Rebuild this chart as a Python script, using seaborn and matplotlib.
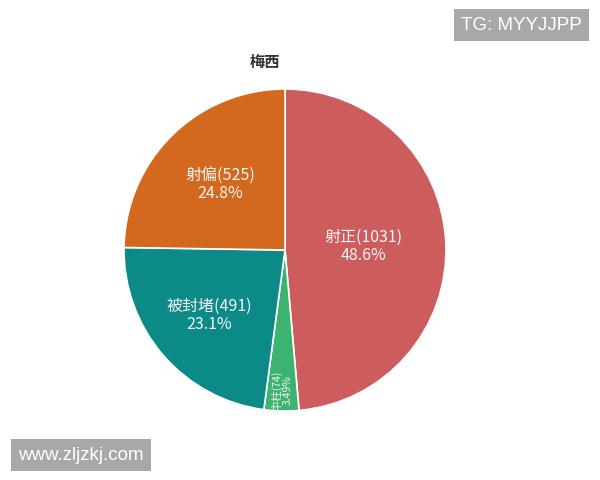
import numpy as np
import matplotlib
matplotlib.use("Agg")
import matplotlib.pyplot as plt
import seaborn as sns

# ---- data ----
categories = ["射正", "中柱", "被封堵", "射偏"]
counts = [1031, 74, 491, 525]
pct_labels = ["48.6%", "3.49%", "23.1%", "24.8%"]
title = "梅西"

colors = ["#CD5C5C", "#3CB371", "#0B8A87", "#D2691E"]
label_dist = [0.49, 0.87, 0.62, 0.57]

sns.set_theme(style="white")
plt.rcParams['font.family'] = ['Noto Sans CJK SC', 'DejaVu Sans']

fig = plt.figure(figsize=(6, 4.8), dpi=100)
cx, cy, r = 285, 250, 161
ax = fig.add_axes([(cx - r) / 600, (480 - cy - r) / 480, 2 * r / 600, 2 * r / 480])

wedges, _ = ax.pie(counts, colors=colors, startangle=90, counterclock=False,
                   wedgeprops=dict(edgecolor="white", linewidth=1.2))
ax.set_xlim(-1.0, 1.0)
ax.set_ylim(-1.0, 1.0)
ax.set_aspect('equal')
ax.axis('off')

for w, cat, n, p, d in zip(wedges, categories, counts, pct_labels, label_dist):
    ang = np.deg2rad((w.theta1 + w.theta2) / 2)
    x, y = d * np.cos(ang), d * np.sin(ang)
    if n < 100:
        ax.text(x, y, f"{cat}({n})\n{p}", ha='center', va='center', rotation=90,
                fontsize=7.5, color='#f5f5f5', linespacing=1.1)
    else:
        ax.text(x, y, f"{cat}({n})\n{p}", ha='center', va='center',
                fontsize=11.5, color='#f5f5f5', linespacing=1.05)

fig.text(265 / 600, 1 - 62 / 480, title, ha='center', va='center',
         fontsize=11, fontweight='bold', color='#333333')

# watermarks
fig.text(521 / 600, 1 - 25 / 480, "TG: MYYJJPP", ha='center', va='center',
         fontsize=13.5, color='white', family='Liberation Sans',
         bbox=dict(boxstyle='square,pad=0.38', facecolor='#A8A8A8', edgecolor='none'))
fig.text(81 / 600, 1 - 455 / 480, "www.zljzkj.com", ha='center', va='center',
         fontsize=13.5, color='white', family='Liberation Sans',
         bbox=dict(boxstyle='square,pad=0.38', facecolor='#A8A8A8', edgecolor='none'))

fig.savefig("out.png", dpi=100)
